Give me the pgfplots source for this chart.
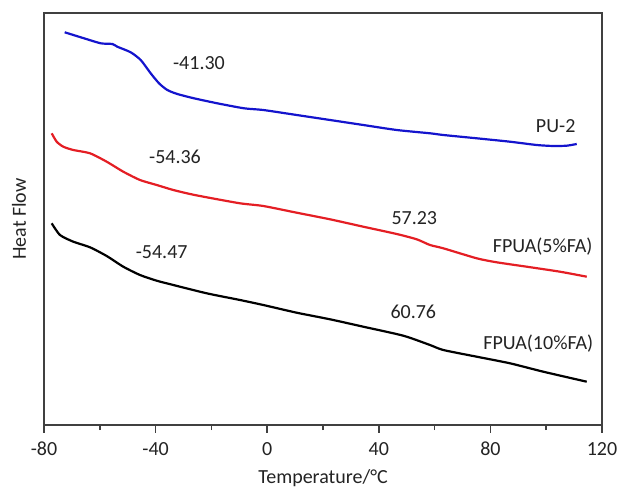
\documentclass[border=0pt]{standalone}
\usepackage{fontspec}
\setmainfont{Carlito}
\usepackage{pgfplots}
\pgfplotsset{compat=1.18}
\newcommand\ff{\fontsize{20}{24}\selectfont}
\definecolor{cblue}{RGB}{20,20,205}
\definecolor{cred}{RGB}{228,30,36}
\definecolor{ctext}{RGB}{35,35,35}
\begin{document}
\begin{tikzpicture}
\useasboundingbox (-44pt,-65pt) rectangle (574pt,425pt);
\begin{axis}[
  at={(0,0)}, anchor=south west,
  scale only axis, width=558pt, height=412pt,
  xmin=-80, xmax=120, ymin=0, ymax=412,
  xtick={-80,-40,0,40,80,120},
  minor x tick num=1,
  ytick=\empty,
  xtick pos=left,
  tick align=outside,
  major tick length=7.5pt, minor tick length=5pt,
  axis line style={line width=1.5pt, draw=black!75},
  every tick/.style={line width=1.5pt, draw=black!75},
  /pgf/number format/assume math mode=true,
  tick label style={font=\ff, text=ctext},
  xticklabel style={yshift=-6pt},
  clip=false,
]
\addplot[cblue, line width=2.2pt, smooth, tension=0.4] coordinates {
(-72.58,392.7) (-65.66,386.7) (-59.68,381.7) (-55.52,381) (-53.73,378.3)
(-48.93,372.7) (-45.34,365) (-41.76,351.7) (-38.78,341.7) (-35.81,335)
(-32.22,331) (-26.24,326.7) (-17.89,321.7) (-8.32,316.7) (-1.40,315)
(10.57,310) (22.51,305) (34.44,300) (46.41,295) (58.35,291.7)
(63.12,290) (75.09,286.7) (87.02,283.3) (96.59,280) (102.54,279)
(107.35,279.3) (110.93,281)
};
\addplot[cred, line width=2.2pt, smooth, tension=0.4] coordinates {
(-77.24,291.7) (-75.45,283.3) (-73.08,278.3) (-69.50,275) (-63.51,271.7)
(-57.53,263.3) (-51.58,253.3) (-45.59,245) (-39.61,240) (-33.66,235)
(-27.67,231) (-21.69,227.7) (-9.75,221.7) (-1.40,219) (10.57,212.3)
(22.51,205.7) (34.44,198.3) (46.41,191) (53.58,185.7) (58.35,180)
(63.12,176.7) (75.09,166.7) (82.26,162.7) (93.01,158.3) (104.94,153.3)
(114.52,148.3)
};
\addplot[black, line width=2.2pt, smooth, tension=0.4] coordinates {
(-77.24,201.7) (-74.27,190) (-69.50,183.3) (-63.51,177.7) (-57.53,169)
(-51.58,158.3) (-45.59,150) (-39.61,144.3) (-33.66,140) (-21.69,131.7)
(-9.75,125) (-1.40,120) (10.57,112.3) (22.51,105.7) (34.44,98.3)
(48.78,89.3) (58.35,80) (63.12,75) (75.09,68.3) (87.02,61.7)
(98.96,53.3) (114.52,43.3)
};
\node[font=\ff, text=ctext] at (axis cs:-24.45,362.3) {-41.30};
\node[font=\ff, text=ctext] at (axis cs:-33.05,267.7) {-54.36};
\node[font=\ff, text=ctext] at (axis cs:-37.82,173.3) {-54.47};
\node[font=\ff, text=ctext] at (axis cs:103.40,299.3) {PU-2};
\node[font=\ff, text=ctext] at (axis cs:52.73,206.7) {57.23};
\node[font=\ff, text=ctext] at (axis cs:98.74,178.3) {FPUA(5\%FA)};
\node[font=\ff, text=ctext] at (axis cs:52.37,113.3) {60.76};
\node[font=\ff, text=ctext] at (axis cs:97.17,81.7) {FPUA(10\%FA)};
\node[font=\ff, text=ctext, rotate=90] at (axis description cs:-0.045,0.5) {Heat Flow};
\node[font=\ff, text=ctext] at (axis description cs:0.5,-0.1286) {Temperature/°C};
\end{axis}
\end{tikzpicture}
\end{document}
